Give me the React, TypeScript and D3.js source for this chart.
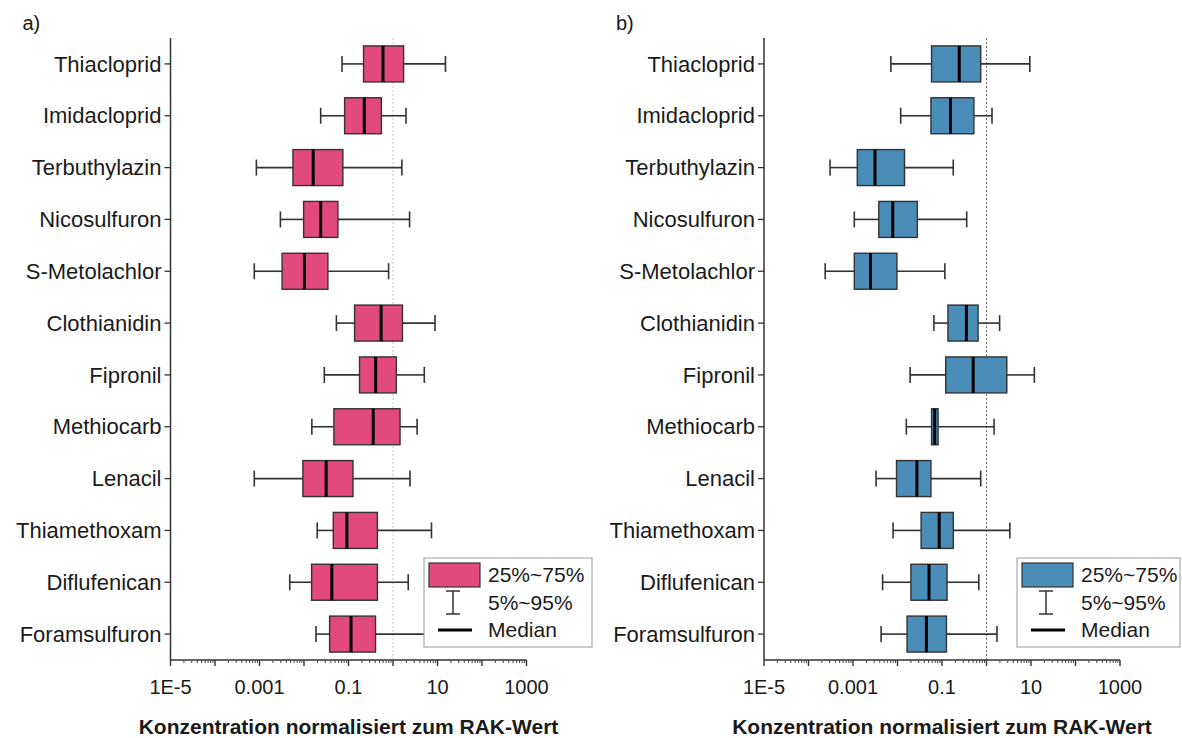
import React from "react";
import * as d3 from "d3";

const categories = [
  "Thiacloprid", "Imidacloprid", "Terbuthylazin", "Nicosulfuron", "S-Metolachlor",
  "Clothianidin", "Fipronil", "Methiocarb", "Lenacil", "Thiamethoxam", "Diflufenican", "Foramsulfuron",
];

// Panel a) (5%, 25%, median, 75%, 95%)
const p5A = [0.0715, 0.0237, 0.00085, 0.00295, 0.000764, 0.0535, 0.0286, 0.015, 0.000764, 0.0198, 0.00478, 0.0186];
const q1A = [0.218, 0.0817, 0.00564, 0.0098, 0.00322, 0.137, 0.177, 0.047, 0.00944, 0.0455, 0.0148, 0.0376];
const medA = [0.596, 0.226, 0.0161, 0.0237, 0.0102, 0.541, 0.408, 0.359, 0.0314, 0.092, 0.0422, 0.114];
const q3A = [1.73, 0.548, 0.0748, 0.0578, 0.0344, 1.63, 1.19, 1.44, 0.126, 0.446, 0.446, 0.405];
const p95A = [15.1, 1.96, 1.58, 2.36, 0.796, 8.79, 5.05, 3.48, 2.41, 7.33, 2.2, 6.3];

// Panel b)
const p5B = [0.00711, 0.0118, 0.000305, 0.00107, 0.000237, 0.0658, 0.0192, 0.0158, 0.0033, 0.00796, 0.00462, 0.00428];
const q1B = [0.0583, 0.0564, 0.00125, 0.0038, 0.00107, 0.136, 0.121, 0.0583, 0.0095, 0.0339, 0.02, 0.0164];
const medB = [0.244, 0.155, 0.00312, 0.00783, 0.00247, 0.353, 0.502, 0.0686, 0.0273, 0.0865, 0.051, 0.0446];
const q3B = [0.741, 0.521, 0.0144, 0.0279, 0.0097, 0.647, 2.86, 0.0817, 0.0564, 0.179, 0.13, 0.126];
const p95B = [9.4, 1.33, 0.179, 0.359, 0.116, 1.97, 11.9, 1.48, 0.741, 3.34, 0.671, 1.72];

const tickValues = [1e-5, 1e-3, 1e-1, 10, 1000];
const tickLabels = ["1E-5", "0.001", "0.1", "10", "1000"];
const legendLabels = ["25%~75%", "5%~95%", "Median"];
const xTitle = "Konzentration normalisiert zum RAK-Wert";
const rakValue = 1;

const FONT = "'Liberation Sans', Arial, sans-serif";
const TXT = "#1a1a1a";

function Panel({ x0, label, fill, p5, q1, med, q3, p95, refColor, legendX, legendW }: any) {
  const x = d3.scaleLog().domain([1e-5, 1000]).range([x0, x0 + 356]);
  const y = d3.scalePoint<string>().domain(categories).range([38, 660]).padding(0.5);
  const top = 38, bottom = 660;
  const boxH = 36;
  const capH = 16;
  const minor: number[] = [];
  for (let e = -5; e < 3; e++) {
    for (let m = 2; m <= 9; m++) minor.push(m * Math.pow(10, e));
  }
  const decades = d3.range(-5, 4).map((e) => Math.pow(10, e));
  return (
    <g>
      <text x={x0 - 148} y={30} fontSize={20} fontFamily={FONT} fill={TXT}>{label}</text>
      {/* reference line at RAK = 1 */}
      <line x1={x(rakValue)} x2={x(rakValue)} y1={top} y2={bottom} stroke={refColor} strokeWidth={1} strokeDasharray="2,2" />
      {/* boxes */}
      {categories.map((c, i) => {
        const cy = y(c)!;
        return (
          <g key={c}>
            <line x1={x(p5[i])} x2={x(q1[i])} y1={cy} y2={cy} stroke="#333" strokeWidth={1.6} />
            <line x1={x(q3[i])} x2={x(p95[i])} y1={cy} y2={cy} stroke="#333" strokeWidth={1.6} />
            <line x1={x(p5[i])} x2={x(p5[i])} y1={cy - capH / 2} y2={cy + capH / 2} stroke="#333" strokeWidth={1.6} />
            <line x1={x(p95[i])} x2={x(p95[i])} y1={cy - capH / 2} y2={cy + capH / 2} stroke="#333" strokeWidth={1.6} />
            <rect x={x(q1[i])} y={cy - boxH / 2} width={x(q3[i]) - x(q1[i])} height={boxH} fill={fill} stroke="#333" strokeWidth={1.4} />
            <line x1={x(med[i])} x2={x(med[i])} y1={cy - boxH / 2} y2={cy + boxH / 2} stroke="#000" strokeWidth={3} />
          </g>
        );
      })}
      {/* y axis */}
      <line x1={x0} x2={x0} y1={top} y2={bottom} stroke="#333" strokeWidth={1.5} />
      {categories.map((c) => (
        <g key={"t" + c}>
          <line x1={x0 - 6} x2={x0} y1={y(c)!} y2={y(c)!} stroke="#333" strokeWidth={1.3} />
          <text x={x0 - 9} y={y(c)!} dy="0.35em" textAnchor="end" fontSize={22} fontFamily={FONT} fill={TXT}>{c}</text>
        </g>
      ))}
      {/* x axis */}
      <line x1={x0} x2={x0 + 356} y1={bottom} y2={bottom} stroke="#333" strokeWidth={1.5} />
      {minor.map((v, i) => (
        <line key={"m" + i} x1={x(v)} x2={x(v)} y1={bottom} y2={bottom + 3} stroke="#444" strokeWidth={1} />
      ))}
      {decades.map((v, i) => (
        <line key={"d" + i} x1={x(v)} x2={x(v)} y1={bottom} y2={bottom + 6} stroke="#333" strokeWidth={1.4} />
      ))}
      {tickValues.map((v, i) => (
        <text key={"l" + i} x={x(v)} y={694} textAnchor="middle" fontSize={20} fontFamily={FONT} fill={TXT}>{tickLabels[i]}</text>
      ))}
      <text x={x0 + 178} y={734} textAnchor="middle" fontSize={21} fontWeight="bold" fontFamily={FONT} fill={TXT}>{xTitle}</text>
      {/* legend */}
      <g>
        <rect x={legendX} y={558} width={legendW} height={89} fill="#fff" stroke="#999" strokeWidth={1} />
        <rect x={legendX + 5} y={563} width={51} height={24} fill={fill} stroke="#333" strokeWidth={1.2} />
        <line x1={legendX + 29} x2={legendX + 29} y1={591} y2={614} stroke="#333" strokeWidth={1.5} />
        <line x1={legendX + 22} x2={legendX + 36} y1={591} y2={591} stroke="#333" strokeWidth={1.5} />
        <line x1={legendX + 22} x2={legendX + 36} y1={614} y2={614} stroke="#333" strokeWidth={1.5} />
        <line x1={legendX + 14} x2={legendX + 48} y1={630} y2={630} stroke="#000" strokeWidth={3} />
        {legendLabels.map((t, i) => (
          <text key={t} x={legendX + 64} y={575 + i * 27.5} dy="0.35em" fontSize={21} fontFamily={FONT} fill={TXT}>{t}</text>
        ))}
      </g>
    </g>
  );
}

export default function App() {
  return (
    <svg width={1182} height={738} style={{ position: "absolute", left: 0, top: 0, background: "#fff" }}>
      <rect x={0} y={0} width={1182} height={738} fill="#fff" />
      <Panel x0={170.5} label="a)" fill="#E24A7E" p5={p5A} q1={q1A} med={medA} q3={q3A} p95={p95A}
        refColor="#c8c8c8" legendX={424} legendW={168} />
      <Panel x0={764} label="b)" fill="#4A8DB8" p5={p5B} q1={q1B} med={medB} q3={q3B} p95={p95B}
        refColor="#777" legendX={1017} legendW={163} />
    </svg>
  );
}
